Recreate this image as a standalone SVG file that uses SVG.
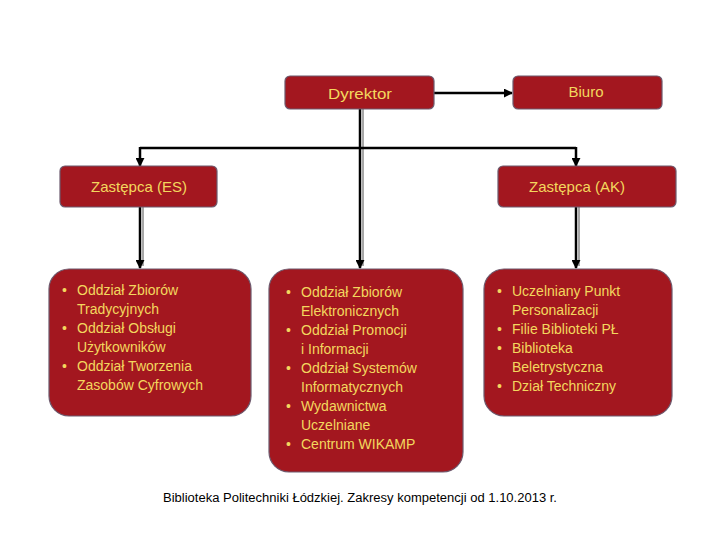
<svg xmlns="http://www.w3.org/2000/svg" width="720" height="540" viewBox="0 0 720 540">
<style>
.box{fill:#a3171f;stroke:#6d5a6e;stroke-width:1.2}
.lbl{font-family:"Liberation Sans",Arial,sans-serif;font-size:15px;fill:#f3d75e;text-anchor:middle}
.it{font-family:"Liberation Sans",Arial,sans-serif;font-size:14px;fill:#f3d75e}
.ln{stroke:#000;stroke-width:2.5;fill:none}
.sh{stroke:#a8a8a8;stroke-width:2;fill:none}
.cap{font-family:"Liberation Sans",Arial,sans-serif;font-size:12px;fill:#000}
</style>
<defs>
<marker id="ah" viewBox="0 0 10 10" refX="9" refY="5" markerWidth="3.6" markerHeight="3.6" orient="auto" markerUnits="strokeWidth">
<path d="M0,0 L10,5 L0,10 z" fill="#000"/>
</marker>
</defs>
<rect width="720" height="540" fill="#fff"/>
<g id="connectors">
<line class="sh" x1="363" y1="109" x2="363" y2="266"/>
<line class="sh" x1="143" y1="207" x2="143" y2="266"/>
<line class="sh" x1="579" y1="207" x2="579" y2="266"/>
<line class="ln" x1="434" y1="93" x2="512" y2="93" marker-end="url(#ah)"/>
<line class="ln" x1="360" y1="109" x2="360" y2="268" marker-end="url(#ah)"/>
<path class="ln" d="M140,148 H576"/>
<line class="ln" x1="140" y1="147" x2="140" y2="166" marker-end="url(#ah)"/>
<line class="ln" x1="576" y1="147" x2="576" y2="166" marker-end="url(#ah)"/>
<line class="ln" x1="140" y1="207" x2="140" y2="268" marker-end="url(#ah)"/>
<line class="ln" x1="576" y1="207" x2="576" y2="268" marker-end="url(#ah)"/>
</g>
<g id="dyrektor">
<rect class="box" x="285" y="76" width="149" height="33" rx="5"/>
<text class="lbl" x="360" y="99" textLength="64" lengthAdjust="spacingAndGlyphs">Dyrektor</text>
</g>
<g id="biuro">
<rect class="box" x="513" y="76" width="149" height="33" rx="5"/>
<text class="lbl" x="586" y="97">Biuro</text>
</g>
<g id="zastepca-es">
<rect class="box" x="60" y="166" width="157" height="41" rx="5"/>
<text class="lbl" x="139" y="192">Zastępca (ES)</text>
</g>
<g id="zastepca-ak">
<rect class="box" x="498" y="166" width="178" height="41" rx="5"/>
<text class="lbl" x="577" y="192">Zastępca (AK)</text>
</g>
<g id="dzialy-es">
<rect class="box" x="49" y="269" width="202" height="147" rx="20"/>
<text class="it" x="62" y="295">•</text><text class="it" x="77" y="295">Oddział Zbiorów</text>
<text class="it" x="77" y="314">Tradycyjnych</text>
<text class="it" x="62" y="333">•</text><text class="it" x="77" y="333">Oddział Obsługi</text>
<text class="it" x="77" y="352">Użytkowników</text>
<text class="it" x="62" y="371">•</text><text class="it" x="77" y="371">Oddział Tworzenia</text>
<text class="it" x="77" y="390">Zasobów Cyfrowych</text>
</g>
<g id="dzialy-dyrektor">
<rect class="box" x="269" y="269" width="194" height="203" rx="20"/>
<text class="it" x="286" y="297">•</text><text class="it" x="301" y="297">Oddział Zbiorów</text>
<text class="it" x="301" y="316">Elektronicznych</text>
<text class="it" x="286" y="335">•</text><text class="it" x="301" y="335">Oddział Promocji</text>
<text class="it" x="301" y="354">i Informacji</text>
<text class="it" x="286" y="373">•</text><text class="it" x="301" y="373">Oddział Systemów</text>
<text class="it" x="301" y="392">Informatycznych</text>
<text class="it" x="286" y="411">•</text><text class="it" x="301" y="411">Wydawnictwa</text>
<text class="it" x="301" y="430">Uczelniane</text>
<text class="it" x="286" y="449">•</text><text class="it" x="301" y="449">Centrum WIKAMP</text>
</g>
<g id="dzialy-ak">
<rect class="box" x="484" y="269" width="188" height="147" rx="20"/>
<text class="it" x="497" y="296">•</text><text class="it" x="512" y="296">Uczelniany Punkt</text>
<text class="it" x="512" y="315">Personalizacji</text>
<text class="it" x="497" y="334">•</text><text class="it" x="512" y="334">Filie Biblioteki PŁ</text>
<text class="it" x="497" y="353">•</text><text class="it" x="512" y="353">Biblioteka</text>
<text class="it" x="512" y="372">Beletrystyczna</text>
<text class="it" x="497" y="391">•</text><text class="it" x="512" y="391">Dział Techniczny</text>
</g>
<text class="cap" x="163" y="502" textLength="394" lengthAdjust="spacingAndGlyphs">Biblioteka Politechniki Łódzkiej. Zakresy kompetencji od 1.10.2013 r.</text>
</svg>
